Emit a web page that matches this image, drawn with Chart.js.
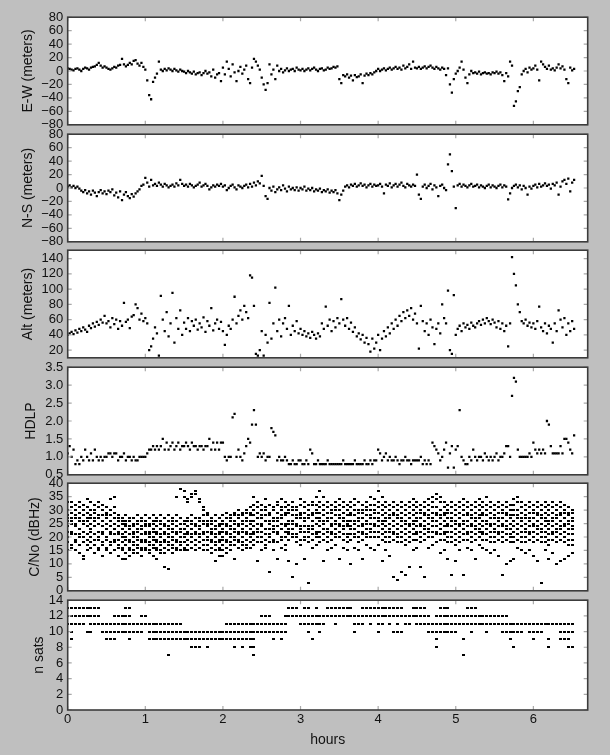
<!DOCTYPE html>
<html>
<head>
<meta charset="utf-8">
<title>GPS log</title>
<script src="https://cdn.jsdelivr.net/npm/chart.js@4.4.1/dist/chart.umd.min.js"></script>
<style>
  html, body { margin: 0; padding: 0; background: #bfbfbf; }
  #figure { position: relative; width: 610px; height: 755px; overflow: hidden; }
  #figure canvas { position: absolute; left: 0; }
</style>
</head>
<body>
<div id="figure"></div>
<script>
// --- Data ---
// Fine series are sampled every 0.025 h, epoch series every 0.05 h.
const fineStep = 0.025;
const epochStep = 0.05;

const hourTicks = [0, 1, 2, 3, 4, 5, 6];

const ewMeters = [
  4, 3, 2, 1, 3, 4, 2, 0, 3, 5, 4, 2, 5, 6, 7, 9, 12, 8, 5, 7,
  5, 3, 2, 4, 6, 5, 8, 9, 18, 10, 7, 9, 12, 10, 15, 16, 11, 8, 12, 6,
  2, -14, -36, -42, -16, -10, -4, 14, 2, 0, 3, 1, 4, 2, 0, 3, 1, -1, 2, 0,
  -1, -3, 0, -2, -4, -1, -5, -3, -2, -6, -3, 0, -4, -2, -8, 2, -10, -5, -3, -15,
  5, -5, 14, 3, -8, 10, -2, -15, 0, 6, -4, 2, 8, -12, -18, 5, 18, 14, 8, 2,
  -10, -20, -28, -18, 10, -5, 2, -12, 8, 0, 3, -2, 1, 4, 0, 2, 3, 0, 5, 2,
  1, 3, 0, 2, 4, 1, 3, 5, 2, 0, 3, 4, 1, 2, 5, 3, 4, 6, 5, 7,
  -12, -18, -6, -8, -5, -10, -7, -14, -6, -9, -8, -5, -18, -7, -4, -6, -3, -5, -2, 0,
  3, 0, 2, 4, 1, 3, 5, 2, 4, 6, 3, 5, 2, 8, 4, 6, 10, 3, 14, 5,
  4, 6, 3, 5, 7, 4, 6, 8, 5, 3, 6, 4, 2, 5, 3, -6, 4, -20, -32, -12,
  -4, 0, 5, 14, 2, -10, -18, -5, 0, -3, -2, -4, -1, -5, -3, -2, -4, -3, -5, -2,
  -3, -1, -4, -2, -6, -15, -3, -8, 14, 8, -52, -45, -30, -24, -5, 0, 3, -2, 5, 2,
  4, 8, 2, -14, 14, 10, 6, 3, 8, 2, 4, 1, 5, 10, 4, 7, 2, -12, -18, 5, 1, 3
];

const nsMeters = [
  2, 4, 1, 3, 0, 2, -1, -4, -6, -3, -8, -5, -10, -4, -7, -12, -6, -3, -8, -5,
  -9, -4, -6, -2, -11, -7, -14, -5, -18, -10, -6, -12, -15, -9, -13, -8, -5, -2, 3, 5,
  15, 8, 2, 12, 4, 6, 3, 8, 5, 2, 6, 4, 1, 3, 5, 2, 7, 4, 12, 6,
  3, 5, 2, 6, 4, 1, 3, 5, 8, 2, 4, 6, 3, -2, 1, 4, 2, 5, 3, 6,
  2, 4, -3, 0, 3, 5, 1, -2, 4, 2, 0, 3, 5, 1, 6, 2, 8, 4, 10, 7,
  18, 3, -12, -16, 0, -4, 2, -6, -2, 1, -3, 4, -1, -5, 2, -2, 0, -3, 1, -4,
  0, -2, 2, -4, -1, -3, 0, -5, -2, -4, -1, -6, -3, -5, -2, -7, -4, -6, -3, -8,
  -18, -10, -4, 2, 4, 1, 5, 3, 6, 2, 4, 7, 3, 5, 1, 4, 6, 2, 5, 3,
  4, 6, 2, -8, 5, 3, 7, 1, 4, 6, 2, 5, 8, 3, 1, 6, 4, 2, 5, 3,
  20, -10, -16, 2, 5, 0, 3, 6, -2, 4, 1, -12, 3, 5, 0, -3, 35, 50, 25, 2,
  -30, 4, 6, 2, 5, 3, 1, 4, 6, 2, 3, 5, 1, 4, 2, 0, 3, 5, 1, 4,
  2, 0, 3, 5, 1, 4, 2, -17, -8, 0, 3, 5, 1, 4, -2, 3, 0, -10, 2, -1,
  3, 5, 1, 6, 2, 4, 7, 3, 5, -1, 6, 4, 8, -10, 2, 10, 12, 6, 14, -5, 8, 12
];

const altMeters = [
  40, 42, 44, 41, 46, 43, 48, 45, 50, 47, 44, 52, 49, 55, 51, 57, 53, 60, 56, 65,
  55, 58, 50, 62, 54, 60, 48, 58, 52, 82, 57, 60, 49, 64, 66, 80, 75, 60, 68, 58,
  62, 55, 20, 25, 35, 50, 42, 13, 91, 60, 45, 70, 38, 55, 95, 30, 62, 48, 72, 40,
  56, 48, 62, 45, 58, 52, 60, 47, 55, 50, 63, 44, 58, 52, 75, 46, 55, 60, 48, 57,
  45, 27, 40, 52, 48, 60, 90, 55, 65, 72, 60, 78, 70, 62, 118, 115, 78, 15, 13, 20,
  45, 13, 40, 30, 82, 35, 55, 102, 45, 60, 38, 55, 62, 48, 78, 40, 52, 45, 58, 42,
  48, 40, 45, 38, 42, 36, 44, 40, 35, 42, 38, 55, 48, 77, 52, 60, 45, 58, 50, 62,
  55, 87, 60, 52, 62, 48, 56, 44, 50, 38, 42, 34, 40, 30, 36, 28, 18, 35, 22, 30,
  40, 20, 35, 45, 38, 50, 42, 55, 48, 60, 52, 65, 58, 70, 62, 72, 65, 75, 60, 68,
  55, 22, 78, 58, 45, 55, 40, 60, 50, 28, 48, 55, 42, 80, 62, 55, 98, 20, 15, 92,
  40, 48, 52, 45, 55, 50, 53, 48, 56, 52, 50, 55, 58, 53, 60, 55, 62, 58, 54, 60,
  56, 50, 58, 48, 55, 45, 52, 25, 55, 142, 120, 105, 80, 70, 58, 55, 60, 52, 56, 50,
  55, 48, 58, 77, 50, 45, 55, 42, 52, 48, 30, 55, 45, 72, 60, 50, 62, 40, 55, 45, 58, 48
];

const hdlp = [
  1.1, 1.3, 1.0, 1.2, 0.8, 0.9, 0.8, 1.0, 0.9, 1.2, 1.0, 0.9, 1.1, 0.9, 1.2, 1.0, 0.9, 1.0, 0.9, 1.0,
  1.0, 1.1, 1.1, 1.0, 1.1, 1.1, 0.9, 1.0, 1.0, 1.1, 0.9, 1.0, 1.0, 0.9, 1.0, 0.9, 0.9, 1.0, 1.0, 1.0,
  1.0, 1.1, 1.2, 1.2, 1.3, 1.2, 1.3, 1.2, 1.3, 1.5, 1.2, 1.4, 1.2, 1.3, 1.4, 1.2, 1.3, 1.4, 1.2, 1.3,
  1.3, 1.4, 1.3, 1.2, 1.4, 1.3, 1.3, 1.2, 1.3, 1.3, 1.2, 1.3, 1.3, 1.5, 1.2, 1.4, 1.2, 1.4, 1.2, 1.4,
  1.4, 1.0, 0.9, 1.0, 1.0, 2.1, 2.2, 1.0, 1.2, 1.0, 0.9, 1.1, 1.3, 1.5, 1.4, 1.9, 2.3, 1.9, 1.0, 1.1,
  1.0, 1.1, 0.9, 1.0, 1.0, 1.8, 1.7, 1.6, 0.9, 1.0, 0.9, 0.9, 1.0, 0.9, 0.8, 0.8, 0.9, 0.8, 0.8, 0.9,
  0.9, 0.8, 0.8, 0.9, 0.8, 1.2, 1.1, 0.8, 0.8, 0.9, 0.8, 0.8, 0.8, 0.8, 0.9, 0.8, 0.8, 0.8, 0.8, 0.8,
  0.8, 0.8, 0.9, 0.8, 0.8, 0.8, 0.8, 0.8, 0.9, 0.8, 0.8, 0.8, 0.8, 0.9, 0.8, 0.8, 0.9, 0.8, 0.9, 0.9,
  1.2, 1.1, 0.9, 1.0, 1.1, 0.9, 1.0, 0.9, 0.9, 1.0, 0.9, 0.8, 0.9, 0.9, 1.0, 0.9, 0.9, 0.8, 0.9, 0.9,
  0.9, 0.9, 1.0, 0.8, 0.9, 0.8, 0.9, 0.8, 1.4, 1.3, 1.2, 1.1, 0.9, 1.0, 1.2, 1.4, 0.7, 1.1, 1.3, 0.7,
  1.2, 1.3, 2.3, 1.0, 0.9, 0.8, 0.8, 1.0, 0.9, 1.2, 1.0, 0.9, 1.0, 1.0, 0.9, 1.1, 1.0, 0.9, 1.0, 0.9,
  1.0, 1.1, 0.9, 1.0, 1.0, 1.1, 1.3, 1.3, 1.0, 2.7, 3.2, 3.1, 1.2, 1.0, 1.0, 1.0, 1.0, 1.0, 1.1, 1.0,
  1.4, 1.2, 1.1, 1.2, 1.1, 1.2, 1.1, 2.0, 1.9, 1.3, 1.1, 1.1, 1.1, 1.1, 1.3, 1.1, 1.5, 1.5, 1.4, 1.2, 1.1, 1.6
];

// C/No of every tracked satellite, one list per epoch
const cnoByEpoch = [
  [33, 30, 28, 27, 26, 24, 22, 20, 18, 15], [33, 31, 29, 27, 26, 25, 22, 21, 17, 16],
  [32, 30, 28, 27, 25, 24, 21, 19, 18, 15], [33, 31, 29, 27, 26, 23, 21, 20, 17, 14],
  [32, 30, 28, 26, 25, 22, 20, 18, 13, 12], [34, 31, 29, 27, 26, 24, 21, 19, 17, 15],
  [33, 30, 28, 27, 25, 23, 22, 20, 18, 16], [32, 30, 29, 27, 26, 24, 21, 19, 17, 14],
  [33, 31, 28, 27, 25, 22, 20, 19, 16, 15], [32, 30, 28, 26, 24, 22, 21, 18, 17, 13],
  [31, 29, 28, 27, 25, 23, 20, 19, 16, 15], [34, 30, 28, 26, 24, 22, 21, 18, 17, 14],
  [35, 31, 29, 27, 25, 23, 21, 19, 18, 15], [28, 27, 26, 24, 22, 21, 19, 17, 16, 13],
  [27, 26, 25, 23, 21, 20, 18, 16, 15, 12], [28, 26, 25, 24, 22, 20, 19, 17, 14, 12],
  [27, 26, 24, 23, 21, 19, 18, 16, 15, 13], [27, 25, 24, 22, 21, 20, 18, 17, 15, 14],
  [28, 26, 25, 23, 22, 20, 19, 17, 16, 14], [27, 26, 24, 23, 21, 19, 18, 16, 15, 13],
  [28, 26, 25, 24, 22, 21, 19, 18, 16, 15], [27, 25, 24, 22, 21, 20, 18, 17, 15, 14],
  [28, 26, 25, 23, 22, 20, 19, 17, 16, 13], [27, 26, 24, 22, 21, 19, 18, 16, 15, 12],
  [28, 26, 25, 23, 21, 20, 18, 17, 15, 14], [27, 25, 24, 22, 21, 19, 18, 16, 14, 9],
  [28, 26, 24, 23, 21, 20, 18, 17, 15, 8], [27, 26, 25, 23, 22, 20, 19, 17, 16, 14],
  [35, 28, 26, 24, 22, 21, 19, 18, 16, 15], [40, 38, 27, 25, 23, 22, 20, 18, 17, 15],
  [37, 35, 26, 25, 23, 21, 20, 18, 16, 15], [34, 33, 27, 26, 24, 22, 21, 19, 17, 15],
  [36, 35, 28, 26, 25, 23, 21, 20, 18, 16], [37, 36, 27, 25, 24, 22, 21, 19, 17, 15],
  [34, 33, 27, 26, 24, 23, 21, 20, 18, 16], [31, 30, 28, 26, 25, 22, 21, 19, 17, 15],
  [29, 28, 26, 25, 24, 22, 20, 19, 17, 15], [27, 26, 25, 23, 22, 21, 19, 18, 16, 14],
  [28, 26, 24, 23, 21, 20, 18, 17, 15, 11], [27, 25, 24, 22, 21, 19, 18, 16, 15, 13],
  [28, 26, 25, 23, 22, 20, 19, 17, 15, 13], [29, 27, 25, 24, 22, 21, 19, 18, 16, 14],
  [28, 27, 26, 24, 23, 21, 20, 18, 17, 15], [29, 28, 26, 25, 23, 22, 20, 19, 17, 12],
  [30, 28, 27, 25, 24, 22, 21, 19, 18, 16], [29, 28, 26, 25, 23, 22, 20, 18, 17, 15],
  [30, 29, 27, 26, 24, 22, 21, 19, 17, 16], [31, 29, 28, 26, 25, 23, 21, 20, 18, 16],
  [35, 32, 30, 28, 26, 24, 22, 21, 19, 17], [33, 31, 29, 27, 25, 23, 22, 20, 18, 11],
  [32, 30, 28, 27, 25, 24, 22, 20, 18, 15], [34, 31, 30, 28, 26, 23, 21, 19, 17, 16],
  [32, 29, 28, 26, 25, 23, 21, 20, 18, 7], [31, 30, 27, 26, 24, 23, 22, 19, 18, 15],
  [33, 32, 29, 27, 26, 24, 22, 21, 18, 12], [34, 31, 30, 28, 27, 25, 23, 20, 19, 16],
  [33, 31, 29, 28, 25, 24, 22, 20, 17, 15], [32, 30, 29, 26, 25, 23, 22, 21, 19, 11],
  [33, 31, 30, 28, 26, 25, 23, 21, 20, 5], [31, 30, 28, 27, 25, 24, 21, 20, 18, 10],
  [34, 32, 29, 28, 27, 24, 23, 22, 19, 17], [33, 31, 29, 27, 26, 24, 22, 20, 19, 12],
  [32, 30, 28, 27, 24, 23, 22, 20, 18, 3], [33, 32, 29, 28, 26, 24, 23, 21, 19, 16],
  [35, 32, 30, 29, 27, 25, 22, 21, 20, 17], [37, 33, 31, 29, 27, 26, 24, 22, 20, 18],
  [35, 32, 30, 28, 26, 25, 23, 21, 19, 11], [33, 31, 29, 27, 26, 23, 22, 20, 18, 15],
  [32, 30, 29, 27, 25, 24, 22, 21, 19, 16], [33, 31, 30, 28, 26, 25, 23, 21, 20, 17],
  [34, 32, 30, 28, 27, 25, 24, 22, 20, 12], [33, 31, 29, 27, 26, 24, 23, 21, 19, 16],
  [32, 30, 28, 26, 25, 24, 21, 20, 18, 15], [33, 31, 29, 28, 26, 24, 23, 21, 19, 10],
  [34, 32, 30, 28, 26, 25, 23, 21, 20, 16], [33, 30, 29, 27, 26, 24, 22, 20, 18, 15],
  [32, 30, 29, 27, 25, 24, 22, 21, 19, 12], [33, 31, 30, 28, 26, 25, 23, 21, 20, 17],
  [35, 32, 30, 28, 27, 25, 23, 22, 20, 16], [34, 32, 30, 29, 27, 25, 24, 22, 20, 15],
  [37, 33, 31, 29, 27, 26, 24, 22, 20, 17], [35, 32, 30, 28, 26, 25, 23, 21, 19, 11],
  [33, 31, 29, 27, 26, 24, 22, 20, 18, 15], [32, 30, 28, 27, 25, 23, 22, 20, 18, 13],
  [33, 31, 29, 28, 26, 24, 22, 21, 19, 5], [32, 30, 28, 27, 25, 23, 21, 20, 18, 4],
  [33, 31, 29, 27, 26, 24, 22, 20, 18, 7], [32, 30, 28, 26, 25, 23, 21, 19, 17, 6],
  [33, 31, 29, 27, 25, 24, 22, 20, 18, 9], [34, 32, 30, 28, 26, 25, 23, 21, 19, 15],
  [33, 31, 29, 27, 26, 24, 22, 21, 19, 16], [32, 30, 29, 27, 25, 24, 22, 20, 18, 9],
  [33, 31, 29, 28, 26, 24, 23, 21, 19, 5], [34, 32, 30, 28, 27, 25, 23, 22, 20, 16],
  [35, 33, 31, 29, 27, 26, 24, 22, 20, 17], [36, 34, 31, 29, 28, 26, 24, 22, 21, 18],
  [35, 33, 30, 28, 27, 25, 23, 21, 19, 14], [33, 31, 29, 28, 26, 24, 22, 21, 19, 15],
  [32, 30, 29, 27, 25, 24, 22, 20, 18, 12], [33, 31, 29, 27, 26, 24, 22, 20, 18, 6],
  [32, 30, 28, 26, 25, 23, 21, 19, 17, 11], [33, 31, 29, 27, 25, 24, 22, 20, 18, 15],
  [34, 32, 30, 28, 26, 25, 23, 21, 19, 6], [33, 31, 29, 28, 26, 24, 22, 21, 19, 16],
  [32, 30, 28, 27, 25, 24, 22, 20, 18, 15], [33, 31, 29, 27, 26, 24, 23, 21, 19, 12],
  [34, 32, 30, 28, 27, 25, 23, 22, 20, 17], [33, 31, 29, 28, 26, 24, 22, 21, 19, 16],
  [35, 32, 30, 28, 26, 25, 23, 21, 19, 15], [33, 31, 29, 27, 25, 24, 22, 20, 18, 14],
  [32, 30, 28, 27, 25, 23, 22, 20, 18, 15], [33, 31, 29, 27, 26, 24, 22, 21, 19, 13],
  [32, 30, 29, 27, 25, 24, 22, 20, 18, 6], [33, 31, 29, 28, 26, 24, 23, 21, 19, 10],
  [32, 30, 28, 27, 25, 23, 21, 20, 18, 11], [34, 32, 30, 28, 26, 24, 22, 20, 18, 12],
  [35, 33, 30, 28, 27, 25, 23, 21, 19, 16], [33, 31, 29, 27, 26, 24, 22, 20, 18, 15],
  [32, 30, 28, 27, 25, 23, 22, 20, 18, 14], [33, 31, 29, 27, 26, 24, 22, 21, 19, 15],
  [32, 30, 29, 27, 25, 24, 22, 20, 18, 13], [33, 31, 29, 28, 26, 24, 23, 21, 19, 11],
  [32, 30, 28, 27, 25, 23, 22, 20, 18, 3], [33, 31, 29, 27, 26, 24, 22, 20, 18, 15],
  [32, 30, 28, 26, 25, 23, 21, 19, 17, 12], [33, 31, 29, 27, 26, 24, 22, 21, 19, 14],
  [32, 30, 28, 27, 25, 23, 22, 20, 18, 10], [33, 31, 29, 28, 26, 24, 23, 21, 19, 11],
  [32, 30, 29, 27, 25, 24, 22, 20, 18, 12], [31, 29, 28, 26, 25, 23, 21, 19, 17, 13],
  [30, 29, 27, 26, 24, 23, 21, 19, 17, 14]
];

// satellite counts seen within each epoch
const nSatsByEpoch = [
  [13, 12, 11], [13, 12, 11, 10, 9], [13, 12, 11], [13, 12, 11], [13, 12, 11],
  [13, 12, 10], [13, 12, 11, 10], [13, 12, 11], [13, 12, 11], [11, 10],
  [11, 10, 9], [11, 10, 9], [12, 11, 10, 9], [12, 11, 10], [12, 11, 10],
  [13, 12, 11, 10], [13, 12, 11, 10, 9], [11, 10], [11, 10], [12, 11, 10],
  [12, 11], [11, 10, 9], [11, 10, 9], [11, 10, 9], [11, 10, 9],
  [11, 10, 9], [11, 10, 9, 7], [11, 10, 9], [11, 10, 9], [11, 10, 9],
  [10, 9], [10, 9], [10, 9, 8], [10, 9, 8], [10, 9, 8],
  [10, 9], [10, 9, 8], [10, 9], [10, 9], [10, 9],
  [10, 9], [11, 10, 9], [11, 10, 9], [11, 10, 9, 8], [11, 10, 9],
  [11, 10, 9, 8], [11, 10, 9], [11, 10, 9, 8], [11, 10, 9, 8, 7], [11, 10],
  [12, 11, 10], [12, 11, 10], [12, 11, 10], [11, 10, 9], [11, 10],
  [11, 10, 9], [12, 11, 10], [13, 12], [13, 12], [13, 12],
  [12, 11], [13, 12, 11], [13, 12, 11, 10], [12, 11, 9], [13, 12, 11],
  [12, 11, 10], [12, 11], [13, 12], [13, 12], [13, 12, 11],
  [13, 12], [13, 12], [13, 12], [13, 12], [12, 11, 10],
  [12, 11], [13, 12, 11], [13, 12], [13, 12, 11], [13, 12],
  [13, 12, 11, 10], [13, 12, 11], [13, 12], [13, 12, 11], [13, 12, 10],
  [13, 12, 11, 10], [13, 12, 10], [12, 11], [12, 11], [13, 12],
  [13, 12, 11], [13, 12, 11], [13, 12, 11], [12, 11, 10], [11, 10],
  [12, 11, 10, 9, 8], [13, 12, 11, 10], [13, 12, 11, 10], [13, 12, 11, 10], [12, 11, 10],
  [12, 11, 10], [12, 11], [12, 11, 9, 7], [13, 12, 11], [13, 12, 11, 10],
  [13, 12, 11], [12, 11], [12, 11], [12, 11, 10], [12, 11],
  [12, 11], [12, 11], [12, 11, 10], [12, 11, 10], [11, 10, 9],
  [11, 10, 8], [11, 10], [11, 10], [11], [11, 10],
  [11, 10, 9], [11, 10], [11, 10], [11], [11, 9, 8],
  [11], [11], [11, 10, 9], [11, 10, 9], [11, 10, 9, 8],
  [11, 10, 8]
];

// --- Figure layout ---
const FIG_W = 610;
const FIG_H = 755;
const PLOT_LEFT = 67.7;
const PLOT_RIGHT = 587.7;
const PANEL_H = 112;
const PANEL_TOPS = [15, 131.6, 248.2, 364.8, 481.4, 598];
const CANVAS_PAD = 10;
const TICK_FONT = { family: '"Liberation Sans", Arial, Helvetica, sans-serif', size: 13 };
const TITLE_FONT = { family: '"Liberation Sans", Arial, Helvetica, sans-serif', size: 14 };

Chart.defaults.color = '#111';
Chart.defaults.animation = false;

// Small horizontal dash used for the quantised series (C/No, n sats)
function makeDash(w) {
  const c = document.createElement('canvas');
  c.width = w;
  c.height = 2;
  const g = c.getContext('2d');
  g.fillStyle = '#000';
  g.fillRect(0, 0, w, 2);
  return c;
}
const dash = makeDash(3);

function finePoints(values) {
  return values.map((v, i) => ({ x: i * fineStep, y: v }));
}

function epochPoints(lists) {
  const out = [];
  lists.forEach((vals, k) => vals.forEach(v => out.push({ x: k * epochStep, y: v })));
  return out;
}

function fmtTick(v, decimals) {
  const s = Math.abs(v).toFixed(decimals);
  return v < 0 ? '\u2212' + s : s;
}

// Draws the white axes face, the dark frame and matplotlib-style inward ticks
const panelFrame = {
  id: 'panelFrame',
  beforeDraw(chart) {
    const { ctx, chartArea: a } = chart;
    ctx.save();
    ctx.fillStyle = '#fff';
    ctx.fillRect(a.left, a.top, a.right - a.left, a.bottom - a.top);
    ctx.restore();
  },
  afterDraw(chart) {
    const { ctx, chartArea: a, scales: { x, y } } = chart;
    ctx.save();
    ctx.strokeStyle = '#a9a9a9';
    ctx.lineWidth = 1.2;
    ctx.beginPath();
    x.ticks.forEach(t => {
      const px = x.getPixelForValue(t.value);
      ctx.moveTo(px, a.top); ctx.lineTo(px, a.top + 4);
      ctx.moveTo(px, a.bottom); ctx.lineTo(px, a.bottom - 4);
    });
    y.ticks.forEach(t => {
      const py = y.getPixelForValue(t.value);
      ctx.moveTo(a.left, py); ctx.lineTo(a.left + 4, py);
      ctx.moveTo(a.right, py); ctx.lineTo(a.right - 4, py);
    });
    ctx.stroke();
    ctx.strokeStyle = '#3c3c3c';
    ctx.lineWidth = 1.6;
    ctx.strokeRect(a.left, a.top, a.right - a.left, a.bottom - a.top);
    ctx.restore();
  }
};

const panels = [
  { title: 'E-W (meters)', min: -80, max: 80, ticks: [-80, -60, -40, -20, 0, 20, 40, 60, 80], dec: 0, titleX: 28, data: finePoints(ewMeters), style: 'rect' },
  { title: 'N-S (meters)', min: -80, max: 80, ticks: [-80, -60, -40, -20, 0, 20, 40, 60, 80], dec: 0, titleX: 28, data: finePoints(nsMeters), style: 'rect' },
  { title: 'Alt (meters)', min: 10, max: 151, ticks: [20, 40, 60, 80, 100, 120, 140], dec: 0, titleX: 28, data: finePoints(altMeters), style: 'rect' },
  { title: 'HDLP', min: 0.5, max: 3.5, ticks: [0.5, 1.0, 1.5, 2.0, 2.5, 3.0, 3.5], dec: 1, titleX: 31, data: finePoints(hdlp), style: 'rect' },
  { title: 'C/No (dBHz)', min: 0, max: 40, ticks: [0, 5, 10, 15, 20, 25, 30, 35, 40], dec: 0, titleX: 35, data: epochPoints(cnoByEpoch), style: dash },
  { title: 'n sats', min: 0, max: 14, ticks: [0, 2, 4, 6, 8, 10, 12, 14], dec: 0, titleX: 39, data: epochPoints(nSatsByEpoch), style: dash }
];

const fig = document.getElementById('figure');

panels.forEach((p, idx) => {
  const last = idx === panels.length - 1;
  const top = PANEL_TOPS[idx] - CANVAS_PAD;
  const height = last ? FIG_H - top : PANEL_H + 2 * CANVAS_PAD;
  const xAxisH = last ? height - CANVAS_PAD - PANEL_H : 0;

  const canvas = document.createElement('canvas');
  canvas.width = FIG_W;
  canvas.height = height;
  canvas.style.top = top + 'px';
  fig.appendChild(canvas);

  new Chart(canvas, {
    type: 'scatter',
    data: {
      datasets: [{
        data: p.data,
        pointStyle: p.style,
        pointRadius: p.style === 'rect' ? 1.6 : 2,
        pointBorderWidth: 0,
        backgroundColor: '#000',
        borderColor: '#000'
      }]
    },
    options: {
      responsive: false,
      devicePixelRatio: 1,
      events: [],
      layout: { padding: { top: CANVAS_PAD, bottom: last ? 0 : CANVAS_PAD, left: 0, right: FIG_W - PLOT_RIGHT } },
      plugins: { legend: { display: false }, tooltip: { enabled: false } },
      scales: {
        x: {
          type: 'linear',
          min: 0,
          max: 6.7,
          bounds: 'data',
          grid: { display: false, drawTicks: false },
          border: { display: false },
          afterBuildTicks: s => { s.ticks = hourTicks.map(v => ({ value: v })); },
          afterFit: s => { s.height = xAxisH; },
          ticks: { display: last, padding: 2, font: TICK_FONT, autoSkip: false, maxRotation: 0, callback: v => String(v) },
          title: { display: last, text: 'hours', font: TITLE_FONT, color: '#111', padding: { top: 0, bottom: 6.6 } }
        },
        y: {
          type: 'linear',
          min: p.min,
          max: p.max,
          bounds: 'data',
          grid: { display: false, drawTicks: false },
          border: { display: false },
          afterBuildTicks: s => { s.ticks = p.ticks.map(v => ({ value: v })); },
          afterFit: s => { s.width = PLOT_LEFT; },
          ticks: { padding: 4.4, font: TICK_FONT, autoSkip: false, callback: v => fmtTick(v, p.dec) },
          title: { display: true, text: p.title, font: TITLE_FONT, color: '#111', padding: { top: p.titleX - 8.4, bottom: 0 } }
        }
      }
    },
    plugins: [panelFrame]
  });
});
</script>
</body>
</html>
